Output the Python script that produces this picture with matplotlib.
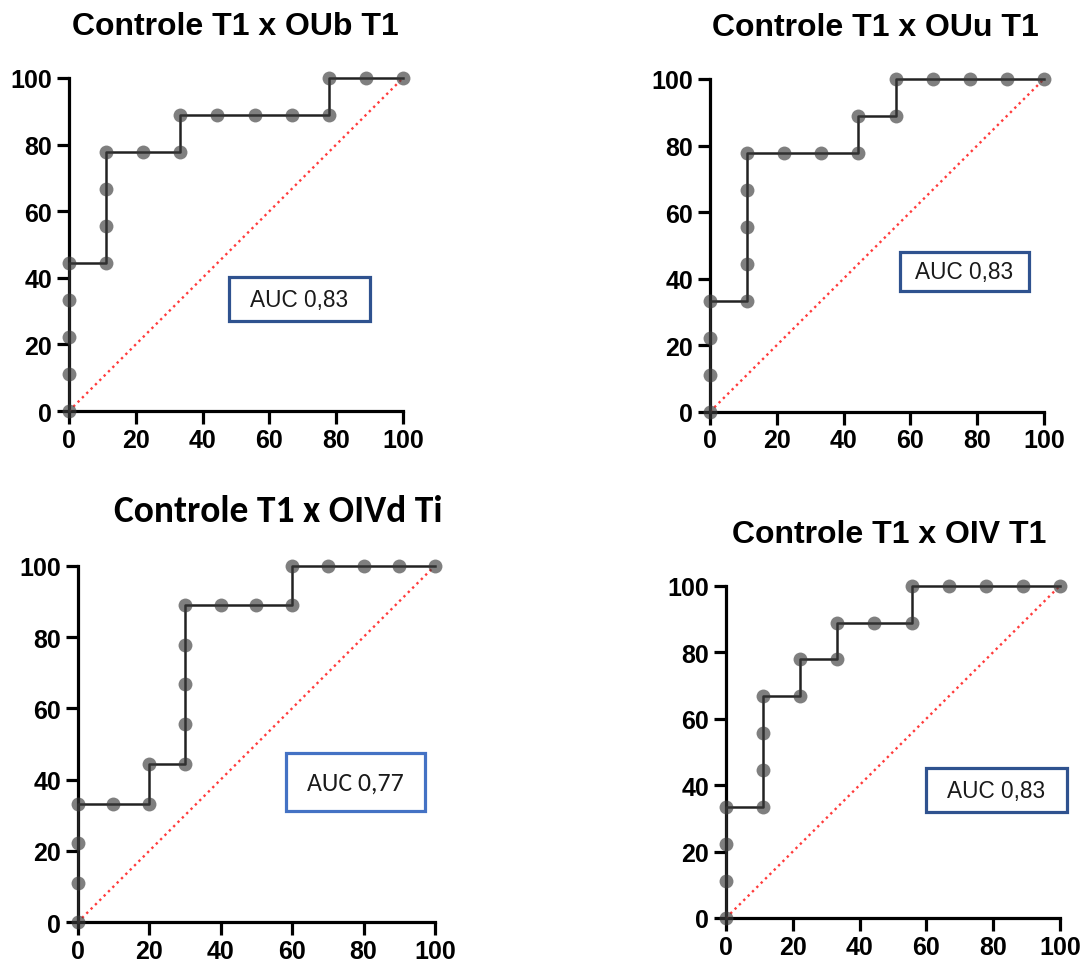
import os
import matplotlib
matplotlib.use("Agg")
import matplotlib.pyplot as plt
import matplotlib.patches as patches
import matplotlib.font_manager as fm

plt.rcParams["font.family"] = ["Liberation Sans", "DejaVu Sans"]


def fprop(fname, family, weight, size):
    for f in fm.fontManager.ttflist:
        if os.path.basename(f.fname) == fname:
            return fm.FontProperties(fname=f.fname, size=size)
    return fm.FontProperties(family=family, weight=weight, size=size)


# ROC points (1 - especificidade %, sensibilidade %)
oub_x = [0, 0, 0, 0, 0, 11.1, 11.1, 11.1, 11.1, 22.2, 33.3, 33.3, 44.4, 55.6, 66.7, 77.8, 77.8, 88.9, 100]
oub_y = [0, 11.1, 22.2, 33.3, 44.4, 44.4, 55.6, 66.7, 77.8, 77.8, 77.8, 88.9, 88.9, 88.9, 88.9, 88.9, 100, 100, 100]

ouu_x = [0, 0, 0, 0, 11.1, 11.1, 11.1, 11.1, 11.1, 22.2, 33.3, 44.4, 44.4, 55.6, 55.6, 66.7, 77.8, 88.9, 100]
ouu_y = [0, 11.1, 22.2, 33.3, 33.3, 44.4, 55.6, 66.7, 77.8, 77.8, 77.8, 77.8, 88.9, 88.9, 100, 100, 100, 100, 100]

oivd_x = [0, 0, 0, 0, 10, 20, 20, 30, 30, 30, 30, 30, 40, 50, 60, 60, 70, 80, 90, 100]
oivd_y = [0, 11.1, 22.2, 33.3, 33.3, 33.3, 44.4, 44.4, 55.6, 66.7, 77.8, 88.9, 88.9, 88.9, 88.9, 100, 100, 100, 100, 100]

oiv_x = [0, 0, 0, 0, 11.1, 11.1, 11.1, 11.1, 22.2, 22.2, 33.3, 33.3, 44.4, 55.6, 55.6, 66.7, 77.8, 88.9, 100]
oiv_y = [0, 11.1, 22.2, 33.3, 33.3, 44.4, 55.6, 66.7, 66.7, 77.8, 77.8, 88.9, 88.9, 88.9, 100, 100, 100, 100, 100]

titles = ["Controle T1 x OUb T1", "Controle T1 x OUu T1", "Controle T1 x OIVd Ti", "Controle T1 x OIV T1"]
auc_labels = ["AUC 0,83", "AUC 0,83", "AUC 0,77", "AUC 0,83"]
ticks = [0, 20, 40, 60, 80, 100]

W, H = 1085, 970
fig = plt.figure(figsize=(W / 100, H / 100), dpi=100)

arial_b_title = fprop("LiberationSans-Bold.ttf", "Liberation Sans", "bold", 23)
arial_b_tick = fprop("LiberationSans-Bold.ttf", "Liberation Sans", "bold", 18)
arial_r_auc = fprop("LiberationSans-Regular.ttf", "Liberation Sans", "normal", 16.3)
calibri_b_title = fprop("Carlito-Bold.ttf", "Carlito", "bold", 27)
calibri_r_auc = fprop("Carlito-Regular.ttf", "Carlito", "normal", 18.5)


def px_axes(x0, x1, y_top, y_bot):
    return fig.add_axes([x0 / W, 1 - y_bot / H, (x1 - x0) / W, (y_bot - y_top) / H])


panels = [
    # axes box (px), title centre/baseline (px), AUC box (data), box colour, fonts
    dict(ax=(69, 403, 79, 412), xs=oub_x, ys=oub_y, title=(235, 35),
         box=(47.9, 27.0, 42.2, 13.2), edge="#2f528f", tfont=arial_b_title, afont=arial_r_auc),
    dict(ax=(710, 1044, 80, 412.7), xs=ouu_x, ys=ouu_y, title=(875.5, 36),
         box=(56.9, 36.3, 38.6, 11.8), edge="#2f528f", tfont=arial_b_title, afont=arial_r_auc),
    dict(ax=(77.7, 435, 566.7, 923.3), xs=oivd_x, ys=oivd_y, title=(278, 522),
         box=(58.2, 31.2, 39.0, 16.3), edge="#4472c4", tfont=calibri_b_title, afont=calibri_r_auc),
    dict(ax=(726, 1060, 586.7, 919), xs=oiv_x, ys=oiv_y, title=(889, 543),
         box=(59.8, 31.9, 42.3, 13.2), edge="#2f528f", tfont=arial_b_title, afont=arial_r_auc),
]

for p, title, auc in zip(panels, titles, auc_labels):
    ax = px_axes(*p["ax"])
    ax.plot([0, 100], [0, 100], color="#ff3b3b", linestyle=(0, (1, 1.6)), linewidth=1.7, zorder=2)
    ax.plot(p["xs"], p["ys"], color="#222222", linewidth=1.8, zorder=3, clip_on=False)
    ax.plot(p["xs"], p["ys"], linestyle="none", marker="o", markersize=10,
            markerfacecolor="#3a3a3a", markeredgecolor="none", alpha=0.65, zorder=4, clip_on=False)

    ax.set_xlim(0, 100)
    ax.set_ylim(0, 100)
    ax.set_xticks(ticks)
    ax.set_yticks(ticks)
    for s in ["top", "right"]:
        ax.spines[s].set_visible(False)
    for s in ["left", "bottom"]:
        ax.spines[s].set_linewidth(2.3)
        ax.spines[s].set_zorder(1)
    ax.tick_params(length=9, width=2.3, pad=3)
    for lab in ax.get_xticklabels() + ax.get_yticklabels():
        lab.set_fontproperties(arial_b_tick)

    bx, by, bw, bh = p["box"]
    ax.add_patch(patches.Rectangle((bx, by), bw, bh, facecolor="white", edgecolor=p["edge"],
                                   linewidth=2.3, zorder=5, clip_on=False))
    ax.text(bx + bw / 2, by + bh / 2, auc, ha="center", va="center",
            fontproperties=p["afont"], color="#1a1a1a", zorder=6)

    tx, ty = p["title"]
    fig.text(tx / W, 1 - ty / H, title, ha="center", va="baseline", fontproperties=p["tfont"])

fig.savefig("out.png", dpi=100)
